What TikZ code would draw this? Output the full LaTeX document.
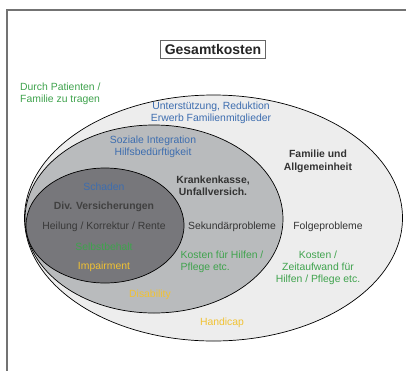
\documentclass[tikz,border=0pt]{standalone}
\usepackage{fontspec}
\setmainfont{Liberation Sans}
\begin{document}
\begin{tikzpicture}[x=1pt,y=-1pt,
  lbl/.style={font=\fontsize{10.4}{12}\selectfont, align=center, inner sep=0pt},
  bold/.style={lbl, font=\fontsize{10.4}{12.5}\selectfont\bfseries, text=black!80},
  greenT/.style={lbl, text=textgreen},
  blueT/.style={lbl, text=textblue},
  yellowT/.style={lbl, text=textyellow},
  darkT/.style={lbl, text=black!80},
  ell/.style={draw=black, line width=0.7pt}
]
\definecolor{textgreen}{HTML}{3FA34D}
\definecolor{textblue}{HTML}{3D6DAF}
\definecolor{textyellow}{HTML}{F1C232}
\definecolor{outerfill}{HTML}{EDEDED}
\definecolor{midfill}{HTML}{B9BBBD}
\definecolor{innerfill}{HTML}{77777B}
\useasboundingbox (0,0) rectangle (406,370);
\fill[white] (0,0) rectangle (406,370);
\draw[gray!110, line width=1.6pt] (7,420) -- (7,10) -- (460,10);
% ellipses
\draw[ell, fill=outerfill] (213.5,218) ellipse [x radius=189, y radius=123];
\draw[ell, fill=midfill] (154,219) ellipse [x radius=129, y radius=94];
\draw[ell, fill=innerfill] (105,225.5) ellipse [x radius=79, y radius=57.5];
% title
\node[draw=black!60, line width=0.6pt, fill=white, inner xsep=4pt, inner ysep=4pt, font=\fontsize{14}{16}\selectfont\bfseries, text=black!85] (title) at (213,49) {Gesamtkosten};
% outer texts
\node[greenT, align=left, anchor=west] (patient) at (20,94) {Durch Patienten /\\Familie zu tragen};
\node[blueT] (unterst) at (211,113) {Unterstützung, Reduktion\\Erwerb Familienmitglieder};
\node[bold] (familie) at (318,161.5) {Familie und\\Allgemeinheit};
\node[darkT] (folge) at (328,227) {Folgeprobleme};
\node[greenT] (kostenZ) at (318,268) {Kosten /\\Zeitaufwand für\\Hilfen / Pflege etc.};
\node[yellowT] (handicap) at (222,323) {Handicap};
% middle texts
\node[blueT] (sozial) at (153,147) {Soziale Integration\\Hilfsbedürftigkeit};
\node[bold] (kranken) at (213,186) {Krankenkasse,\\Unfallversich.};
\node[darkT] (sekund) at (232,227) {Sekundärprobleme};
\node[greenT, align=left, anchor=west] (kostenH) at (180.5,262) {Kosten für Hilfen /\\Pflege etc.};
\node[yellowT] (disab) at (150,295) {Disability};
% inner texts
\node[blueT] (schaden) at (104,187) {Schaden};
\node[bold, text=black!75] (div) at (104,207) {Div. Versicherungen};
\node[darkT, text=black!78] (heilung) at (104,227) {Heilung / Korrektur / Rente};
\node[greenT] (selbst) at (104,247) {Selbstbehalt};
\node[yellowT] (impair) at (104,267) {Impairment};
\end{tikzpicture}
\end{document}
